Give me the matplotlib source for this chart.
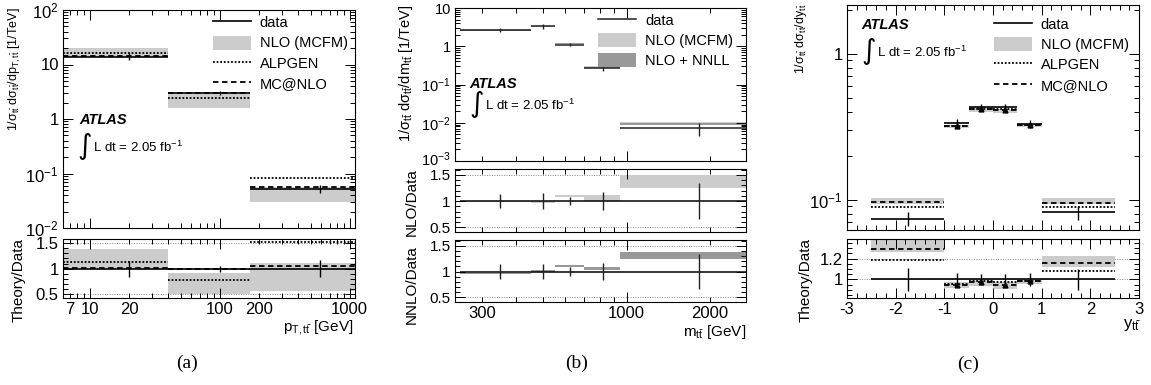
import numpy as np
import matplotlib
matplotlib.use("Agg")
import matplotlib.pyplot as plt
import matplotlib.ticker as mticker
import matplotlib.transforms as mtransforms
from matplotlib.lines import Line2D
from matplotlib.patches import Patch

plt.rcParams["font.family"] = ["Liberation Sans", "DejaVu Sans"]
plt.rcParams["mathtext.fontset"] = "custom"
plt.rcParams["mathtext.rm"] = "Liberation Sans"
plt.rcParams["mathtext.it"] = "Liberation Sans:italic"
plt.rcParams["mathtext.bf"] = "Liberation Sans:bold"
plt.rcParams["mathtext.default"] = "regular"

# ---- (a) pT,tt ----
pt_edges = [0, 40, 170, 1100]
pt_x = [20, 100, 590]
pt_data = [14.0, 3.0, 0.053]
pt_err = [2.0, 0.25, 0.009]
pt_alpgen = [16.5, 2.4, 0.081]
pt_mcnlo = [14.3, 3.0, 0.056]
pt_nlo_lo = [14.0, 1.57, 0.030]
pt_nlo_hi = [20.0, 2.85, 0.057]
pt_ratio_err = [0.16, 0.06, 0.17]
pt_alpgen_r = [1.13, 0.78, 1.53]
pt_mcnlo_r = [1.02, 1.0, 1.045]
pt_nlo_lo_r = [1.0, 0.5, 0.565]
pt_nlo_hi_r = [1.39, 0.91, 1.11]

# ---- (b) m_tt ----
m_edges = [250, 450, 550, 700, 950, 2700]
m_x = [350, 500, 623, 824, 1825]
m_data = [2.7, 3.3, 1.1, 0.267, 0.0071]
m_err = [0.35, 0.45, 0.09, 0.045, 0.0025]
m_nlo_lo = [2.7, 3.15, 1.14, 0.27, 0.0088]
m_nlo_hi = [2.75, 3.3, 1.22, 0.30, 0.0102]
m_nnll_lo = [2.57, 3.3, 1.18, 0.275, 0.0085]
m_nnll_hi = [2.63, 3.37, 1.24, 0.29, 0.0096]
m_ratio_err = [0.14, 0.15, 0.08, 0.17, 0.34]
m_nlo_lo_r = [0.99, 0.955, 1.07, 1.0, 1.24]
m_nlo_hi_r = [1.01, 1.0, 1.11, 1.12, 1.5]
m_nnll_lo_r = [0.95, 1.0, 1.08, 1.03, 1.24]
m_nnll_hi_r = [0.975, 1.02, 1.12, 1.08, 1.38]

# ---- (c) y_tt ----
y_edges = [-2.5, -1.0, -0.5, 0.0, 0.5, 1.0, 2.5]
y_x = [-1.75, -0.75, -0.25, 0.25, 0.75, 1.75]
y_data = [0.074, 0.335, 0.43, 0.43, 0.331, 0.082]
y_err = [0.008, 0.02, 0.02, 0.02, 0.02, 0.009]
y_alpgen = [0.089, 0.32, 0.42, 0.42, 0.324, 0.089]
y_mcnlo = [0.096, 0.318, 0.415, 0.408, 0.326, 0.095]
y_nlo_lo = [0.093, 0.31, 0.40, 0.39, 0.316, 0.093]
y_nlo_hi = [0.102, 0.326, 0.428, 0.418, 0.332, 0.102]
y_ratio_err = [0.11, 0.065, 0.05, 0.055, 0.06, 0.1]
y_alpgen_r = [1.19, 0.955, 0.98, 0.975, 0.98, 1.077]
y_mcnlo_r = [1.29, 0.95, 0.975, 0.945, 0.985, 1.16]
y_nlo_lo_r = [1.26, 0.915, 0.94, 0.91, 0.96, 1.12]
y_nlo_hi_r = [1.40, 0.97, 1.0, 0.97, 1.0, 1.23]

LIGHT = "#cccccc"
DARK = "#999999"
DOT = (0, (1, 1))
DASH = (0, (3, 2))
TICK_FS = 12

W, H = 1151, 385
fig = plt.figure(figsize=(W / 100, H / 100), dpi=100)


def add_ax(x0, y0, x1, y1):
    return fig.add_axes([x0 / W, 1 - y1 / H, (x1 - x0) / W, (y1 - y0) / H])


def root_ticks(ax):
    ax.tick_params(which="both", direction="in", top=True, right=True,
                   labelsize=TICK_FS, width=0.7, pad=3)
    ax.tick_params(which="major", length=7)
    ax.tick_params(which="minor", length=3.5)
    for s in ax.spines.values():
        s.set_linewidth(0.8)


def log_fmt(v, pos):
    e = int(round(np.log10(v)))
    if abs(v - 10.0 ** e) > 1e-9 * v:
        return ""
    if e == 0:
        return "1"
    if e == 1:
        return "10"
    return "$10^{%d}$" % e


def steps(ax, edges, vals, xmin=None, **kw):
    for i, v in enumerate(vals):
        lo = edges[i] if xmin is None else max(edges[i], xmin)
        ax.hlines(v, lo, edges[i + 1], **kw)


def bands(ax, edges, lo, hi, color, xmin=None):
    for i in range(len(lo)):
        a = edges[i] if xmin is None else max(edges[i], xmin)
        ax.fill_between([a, edges[i + 1]], lo[i], hi[i], color=color, lw=0)


def errs(ax, x, vals, err, color="black"):
    v = np.array(vals)
    e = np.array(err)
    ax.vlines(x, v - e, v + e, color=color, lw=1)


def atlas(ax, x, y):
    ax.text(x, y, "ATLAS", transform=ax.transAxes, fontsize=10.5,
            fontweight="bold", fontstyle="italic", va="center")


def lumi(ax, x, y):
    ax.text(x, y, "\u222b", transform=ax.transAxes, fontsize=20,
            va="center", ha="left", family=["DejaVu Sans"])
    ax.text(x + 0.052, y - 0.005, "L dt = 2.05 fb$^{-1}$", transform=ax.transAxes,
            fontsize=9.5, va="center")


def minor_labels(keep):
    def f(v, pos):
        r = int(round(v))
        if abs(v - r) < 1e-6 and r in keep:
            return str(r)
        return ""
    return mticker.FuncFormatter(f)


def ratio_refs(ax, levels):
    for lv in levels:
        ax.axhline(lv, color="#888888", lw=0.7, ls=(0, (1, 1.5)), zorder=0)


def legend(ax, handles, labels, anchor):
    ax.legend(handles, labels, loc="upper right", bbox_to_anchor=anchor,
              frameon=False, fontsize=10.5, handlelength=2.6, handleheight=1.1,
              handletextpad=0.6, labelspacing=0.35, borderaxespad=0, borderpad=0)


# ================= (a) =================
PT_XMIN = 6.2
ax = add_ax(63, 10, 355, 228)
bands(ax, pt_edges, pt_nlo_lo, pt_nlo_hi, LIGHT, PT_XMIN)
steps(ax, pt_edges, pt_alpgen, PT_XMIN, color="black", lw=1.3, linestyles=DOT)
steps(ax, pt_edges, pt_mcnlo, PT_XMIN, color="black", lw=1.3, linestyles=DASH)
steps(ax, pt_edges, pt_data, PT_XMIN, color="black", lw=1.2)
errs(ax, pt_x, pt_data, pt_err)
ax.set_xscale("log")
ax.set_yscale("log")
ax.set_xlim(PT_XMIN, 1100)
ax.set_ylim(0.01, 100)
ax.yaxis.set_major_formatter(mticker.FuncFormatter(log_fmt))
ax.yaxis.set_minor_locator(mticker.LogLocator(subs=np.arange(2, 10)))
ax.yaxis.set_minor_formatter(mticker.NullFormatter())
ax.xaxis.set_major_locator(mticker.FixedLocator([10, 100, 1000]))
ax.xaxis.set_minor_locator(mticker.LogLocator(subs=np.arange(2, 10)))
ax.tick_params(which="both", labelbottom=False)
root_ticks(ax)
atlas(ax, 0.055, 0.495)
lumi(ax, 0.05, 0.375)
handles = [Line2D([], [], color="black", lw=1.2),
           Patch(facecolor=LIGHT, edgecolor="none"),
           Line2D([], [], color="black", lw=1.3, ls=DOT),
           Line2D([], [], color="black", lw=1.3, ls=DASH)]
legend(ax, handles, ["data", "NLO (MCFM)", "ALPGEN", "MC@NLO"], (0.975, 0.975))

ax = add_ax(63, 239, 355, 298)
ratio_refs(ax, [0.5, 1.5])
bands(ax, pt_edges, pt_nlo_lo_r, pt_nlo_hi_r, LIGHT, PT_XMIN)
ax.hlines(1, PT_XMIN, pt_edges[-1], color="black", lw=1.2)
steps(ax, pt_edges, pt_alpgen_r, PT_XMIN, color="black", lw=1.3, linestyles=DOT)
steps(ax, pt_edges, pt_mcnlo_r, PT_XMIN, color="black", lw=1.3, linestyles=DASH)
errs(ax, pt_x, np.ones(len(pt_x)), pt_ratio_err)
ax.set_xscale("log")
ax.set_xlim(PT_XMIN, 1100)
ax.set_ylim(0.42, 1.585)
ax.xaxis.set_major_locator(mticker.FixedLocator([10, 100, 1000]))
ax.xaxis.set_major_formatter(mticker.FuncFormatter(lambda v, p: "%d" % round(v)))
ax.xaxis.set_minor_locator(mticker.LogLocator(subs=np.arange(2, 10)))
ax.xaxis.set_minor_formatter(minor_labels({7, 20, 200}))
ax.yaxis.set_major_locator(mticker.MultipleLocator(0.5))
ax.yaxis.set_minor_locator(mticker.MultipleLocator(0.1))
ax.yaxis.set_major_formatter(mticker.FuncFormatter(lambda v, p: "%g" % v))
root_ticks(ax)

fig.text(15 / W, 1 - 7 / H,
         r"$1/\sigma_{t\bar{t}}\ d\sigma_{t\bar{t}}/dp_{T,t\bar{t}}$ [1/TeV]",
         rotation=90, ha="center", va="top", fontsize=9)
fig.text(19 / W, 1 - 238 / H, "Theory/Data", rotation=90, ha="center", va="top",
         fontsize=11)
fig.text(353 / W, 1 - 331 / H, r"$p_{T,t\bar{t}}$ [GeV]", ha="right",
         va="baseline", fontsize=11)
fig.text(187 / W, 1 - 363 / H, "(a)", ha="center", va="center", fontsize=14,
         family=["Liberation Serif"])

# ================= (b) =================
M_XMIN = 240
ax = add_ax(455, 8, 746, 161)
bands(ax, m_edges, m_nlo_lo, m_nlo_hi, LIGHT)
bands(ax, m_edges, m_nnll_lo, m_nnll_hi, DARK)
steps(ax, m_edges, m_data, color="#222222", lw=1.1)
errs(ax, m_x, m_data, m_err, color="#222222")
ax.set_xscale("log")
ax.set_yscale("log")
ax.set_xlim(M_XMIN, 2700)
ax.set_ylim(1e-3, 10)
ax.yaxis.set_major_locator(mticker.FixedLocator([1e-3, 1e-2, 1e-1, 1, 10]))
ax.yaxis.set_major_formatter(mticker.FuncFormatter(log_fmt))
ax.yaxis.set_minor_locator(mticker.LogLocator(subs=np.arange(2, 10)))
ax.yaxis.set_minor_formatter(mticker.NullFormatter())
ax.xaxis.set_major_locator(mticker.FixedLocator([1000]))
ax.xaxis.set_minor_locator(mticker.LogLocator(subs=np.arange(2, 10)))
ax.tick_params(which="both", labelbottom=False)
root_ticks(ax)
ax.tick_params(axis="y", labelsize=10.5)
# lift the lowest label a little so it clears the ratio panel's "1.5"
low = ax.yaxis.get_major_ticks(5)[0].label1
low.set_transform(low.get_transform() +
                  mtransforms.ScaledTranslation(0, 3 / 100, fig.dpi_scale_trans))
atlas(ax, 0.05, 0.505)
lumi(ax, 0.05, 0.37)
handles = [Line2D([], [], color="#222222", lw=1.1),
           Patch(facecolor=LIGHT, edgecolor="none"),
           Patch(facecolor=DARK, edgecolor="none")]
legend(ax, handles, ["data", "NLO (MCFM)", "NLO + NNLL"], (0.955, 0.965))

for (y0, y1, lo, hi, col) in [(169, 232, m_nlo_lo_r, m_nlo_hi_r, LIGHT),
                              (240, 302, m_nnll_lo_r, m_nnll_hi_r, DARK)]:
    ax = add_ax(455, y0, 746, y1)
    ratio_refs(ax, [0.5, 1.5])
    bands(ax, m_edges, lo, hi, col)
    ax.hlines(1, m_edges[0], m_edges[-1], color="black", lw=1.1)
    errs(ax, m_x, np.ones(len(m_x)), m_ratio_err, color="#222222")
    ax.set_xscale("log")
    ax.set_xlim(M_XMIN, 2700)
    ax.set_ylim(0.41, 1.61)
    ax.xaxis.set_major_locator(mticker.FixedLocator([1000]))
    ax.xaxis.set_major_formatter(mticker.FuncFormatter(lambda v, p: "%d" % round(v)))
    ax.xaxis.set_minor_locator(mticker.LogLocator(subs=np.arange(2, 10)))
    ax.xaxis.set_minor_formatter(minor_labels({300, 2000}))
    ax.yaxis.set_major_locator(mticker.MultipleLocator(0.5))
    ax.yaxis.set_minor_locator(mticker.MultipleLocator(0.1))
    ax.yaxis.set_major_formatter(mticker.FuncFormatter(lambda v, p: "%g" % v))
    root_ticks(ax)
    ax.tick_params(axis="y", labelsize=11)
    if y0 == 169:
        ax.tick_params(axis="x", which="both", labelbottom=False)

fig.text(406 / W, 1 - 4 / H,
         r"$1/\sigma_{t\bar{t}}\ d\sigma_{t\bar{t}}/dm_{t\bar{t}}$ [1/TeV]",
         rotation=90, ha="center", va="top", fontsize=10.5)
fig.text(412 / W, 1 - 168 / H, "NLO/Data", rotation=90, ha="center", va="top",
         fontsize=11)
fig.text(412 / W, 1 - 245 / H, "NNLO/Data", rotation=90, ha="center", va="top",
         fontsize=11)
fig.text(746 / W, 1 - 336 / H, r"$m_{t\bar{t}}$ [GeV]", ha="right",
         va="baseline", fontsize=11)
fig.text(577 / W, 1 - 363 / H, "(b)", ha="center", va="center", fontsize=14,
         family=["Liberation Serif"])

# ================= (c) =================
ax = add_ax(847, 5, 1139, 230)
bands(ax, y_edges, y_nlo_lo, y_nlo_hi, LIGHT)
steps(ax, y_edges, y_alpgen, color="black", lw=1.3, linestyles=DOT)
steps(ax, y_edges, y_mcnlo, color="black", lw=1.3, linestyles=DASH)
steps(ax, y_edges, y_data, color="black", lw=1.2)
errs(ax, y_x, y_data, y_err)
ax.plot(y_x[1:5], y_mcnlo[1:5], ls="none", marker="^", ms=3.5, color="black")
ax.set_yscale("log")
ax.set_xlim(-3, 3)
ax.set_ylim(0.062, 2.15)
ax.yaxis.set_major_formatter(mticker.FuncFormatter(log_fmt))
ax.yaxis.set_minor_locator(mticker.LogLocator(subs=np.arange(2, 10)))
ax.yaxis.set_minor_formatter(mticker.NullFormatter())
ax.xaxis.set_major_locator(mticker.MultipleLocator(1))
ax.xaxis.set_minor_locator(mticker.MultipleLocator(0.2))
ax.tick_params(which="both", labelbottom=False)
root_ticks(ax)
atlas(ax, 0.05, 0.91)
lumi(ax, 0.05, 0.795)
handles = [Line2D([], [], color="black", lw=1.2),
           Patch(facecolor=LIGHT, edgecolor="none"),
           Line2D([], [], color="black", lw=1.3, ls=DOT),
           Line2D([], [], color="black", lw=1.3, ls=DASH)]
legend(ax, handles, ["data", "NLO (MCFM)", "ALPGEN", "MC@NLO"], (0.965, 0.945))

ax = add_ax(847, 239, 1139, 298)
ratio_refs(ax, [1.0, 1.2])
bands(ax, y_edges, y_nlo_lo_r, y_nlo_hi_r, LIGHT)
ax.hlines(1, y_edges[0], y_edges[-1], color="black", lw=1.2)
steps(ax, y_edges, y_alpgen_r, color="black", lw=1.3, linestyles=DOT)
steps(ax, y_edges, y_mcnlo_r, color="black", lw=1.3, linestyles=DASH)
errs(ax, y_x, np.ones(len(y_x)), y_ratio_err)
ax.plot(y_x[1:5], y_mcnlo_r[1:5], ls="none", marker="^", ms=3.5, color="black")
ax.set_xlim(-3, 3)
ax.set_ylim(0.82, 1.39)
ax.xaxis.set_major_locator(mticker.MultipleLocator(1))
ax.xaxis.set_minor_locator(mticker.MultipleLocator(0.2))
ax.xaxis.set_major_formatter(mticker.FuncFormatter(lambda v, p: "%g" % round(v)))
ax.yaxis.set_major_locator(mticker.FixedLocator([1.0, 1.2]))
ax.yaxis.set_minor_locator(mticker.MultipleLocator(0.05))
ax.yaxis.set_major_formatter(mticker.FuncFormatter(lambda v, p: "%g" % round(v, 1)))
root_ticks(ax)

fig.text(801 / W, 1 - 3 / H,
         r"$1/\sigma_{t\bar{t}}\ d\sigma_{t\bar{t}}/dy_{t\bar{t}}$",
         rotation=90, ha="center", va="top", fontsize=9)
fig.text(806 / W, 1 - 238 / H, "Theory/Data", rotation=90, ha="center", va="top",
         fontsize=11)
fig.text(1141 / W, 1 - 328 / H, r"$y_{t\bar{t}}$", ha="right",
         va="baseline", fontsize=12)
fig.text(968 / W, 1 - 364 / H, "(c)", ha="center", va="center", fontsize=14,
         family=["Liberation Serif"])

fig.savefig("out.png", dpi=100)
